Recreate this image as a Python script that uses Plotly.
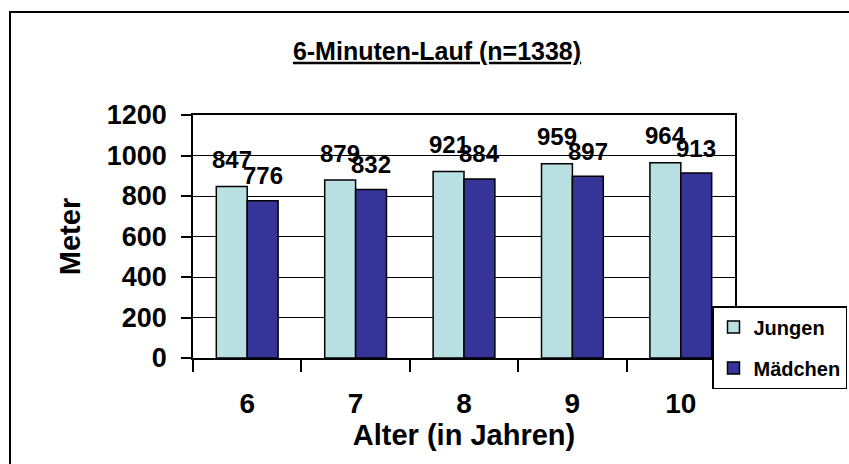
import plotly.graph_objects as go

# ---- data ----
ages = ["6", "7", "8", "9", "10"]
jungen = [847, 879, 921, 959, 964]
maedchen = [776, 832, 884, 897, 913]
series_names = ["Jungen", "Mädchen"]
title_text = "6-Minuten-Lauf (n=1338)"
x_title = "Alter (in Jahren)"
y_title = "Meter"

FONT = "Liberation Sans, Arial, Helvetica, sans-serif"
C_J = "#B9E0E2"
C_M = "#343499"

W, H = 849, 464
L, R, T, B = 193, 114, 115, 106

fig = go.Figure()
fig.add_trace(go.Bar(x=ages, y=jungen, name=series_names[0], legendgroup="a",
                     marker=dict(color=C_J, line=dict(color="black", width=1.5))))
fig.add_trace(go.Bar(x=ages, y=maedchen, name=series_names[1], legendgroup="b",
                     marker=dict(color=C_M, line=dict(color="black", width=1.5))))

# value labels (anchored at category index + value, shifted onto each bar)
for vals, dx, dy in [(jungen, -15.5, 27), (maedchen, 15.5, 25)]:
    for i, v in enumerate(vals):
        fig.add_annotation(x=i, y=v, xref="x", yref="y", text=str(v), showarrow=False,
                           xshift=dx, yshift=dy, yanchor="middle",
                           font=dict(family=FONT, size=24, color="black", weight="bold"))

pw = W - L - R
ph = H - T - B
# outer chart border (only left/top visible in frame)
fig.add_shape(type="rect", xref="paper", yref="paper",
              x0=(10 - L) / pw, x1=(870 - L) / pw,
              y0=-(490 - (H - B)) / ph, y1=((H - B) - 12) / ph,
              line=dict(color="black", width=2), fillcolor="rgba(0,0,0,0)", layer="below")

fig.update_layout(
    width=W, height=H,
    margin=dict(l=L, r=R, t=T, b=B, pad=0, autoexpand=False),
    paper_bgcolor="white", plot_bgcolor="white",
    barmode="group", bargap=0.43, bargroupgap=0,
    font=dict(family=FONT, color="black", weight="bold"),
    title=dict(text=title_text, x=437 / W, xref="container",
               y=1 - 51 / H, yref="container", xanchor="center", yanchor="middle",
               font=dict(family=FONT, size=25, color="black", weight="bold",
                         lineposition="under")),
    legend=dict(x=(712 - L) / pw, y=((H - B) - 306) / ph, xanchor="left", yanchor="top",
                bgcolor="white", bordercolor="black", borderwidth=1.5,
                font=dict(family=FONT, size=20, color="black", weight="bold"),
                tracegroupgap=12, itemwidth=30, traceorder="grouped"),
    xaxis=dict(type="category", range=[-0.5, len(ages) - 0.5], automargin=False,
               showline=True, linecolor="black", linewidth=1.5, mirror=True,
               ticks="outside", tickson="boundaries", ticklen=12, tickcolor="black", tickwidth=1.5,
               ticklabelstandoff=20,
               tickfont=dict(family=FONT, size=28, color="black", weight="bold"),
               title=dict(text=x_title, standoff=0,
                          font=dict(family=FONT, size=29, color="black", weight="bold")),
               showgrid=False),
    yaxis=dict(range=[0, 1200], dtick=200, automargin=False,
               showline=True, linecolor="black", linewidth=1.5, mirror=True,
               ticks="outside", ticklen=10, tickcolor="black", tickwidth=1.5,
               ticklabelstandoff=9,
               tickfont=dict(family=FONT, size=27, color="black", weight="bold"),
               showgrid=True, gridcolor="black", gridwidth=1.2, zeroline=False,
               title=dict(text=y_title, standoff=18,
                          font=dict(family=FONT, size=29, color="black", weight="bold"))),
)

fig.write_html("out.html", config={"displayModeBar": False},
               post_script="document.body.style.margin='0';document.body.style.overflow='hidden';")
